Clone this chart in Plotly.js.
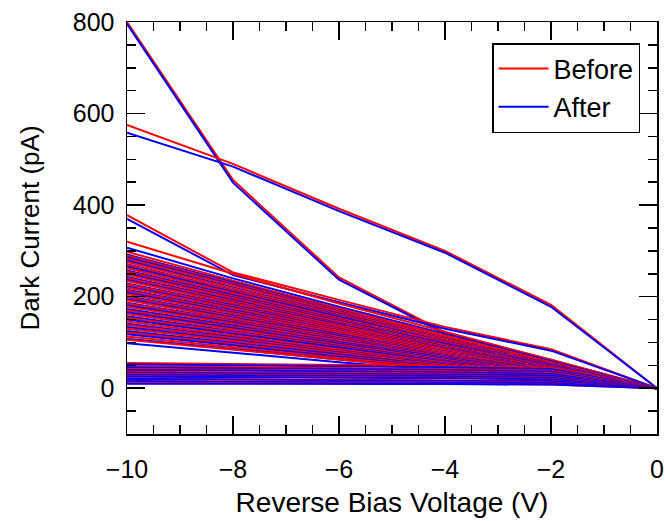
<!DOCTYPE html>
<html>
<head>
<meta charset="utf-8">
<script src="https://cdn.plot.ly/plotly-3.0.1.min.js"></script>
<style>html,body{margin:0;padding:0;background:#fff;}#chart{width:665px;height:521px;}</style>
</head>
<body>
<div id="chart"></div>
<script>
// Reverse bias voltages (V)
const voltage = [-10, -8, -6, -4, -2, 0];

// Dark current (pA) per device, before treatment
const before = [
  [800, 455, 242, 122, 62, 0],
  [575, 490, 392, 300, 182, 0],
  [378, 253, 193, 134, 85, 0],
  [320, 250, 185, 124, 62, 0],
  [298, 235, 174, 115, 57, 0],
  [290, 229, 170, 112, 55, 0],
  [283, 224, 166, 109, 54, 0],
  [276, 218, 161, 106, 52, 0],
  [270, 213, 158, 104, 51, 0],
  [262, 207, 153, 101, 50, 0],
  [255, 201, 149, 98, 48, 0],
  [248, 196, 145, 95, 47, 0],
  [241, 190, 141, 93, 46, 0],
  [234, 185, 137, 90, 44, 0],
  [227, 179, 133, 87, 43, 0],
  [220, 174, 129, 85, 42, 0],
  [213, 168, 125, 82, 40, 0],
  [206, 163, 121, 79, 39, 0],
  [199, 157, 116, 77, 38, 0],
  [192, 152, 112, 74, 36, 0],
  [185, 146, 108, 71, 35, 0],
  [178, 141, 104, 69, 34, 0],
  [170, 134, 99, 65, 32, 0],
  [162, 128, 95, 62, 31, 0],
  [154, 122, 90, 59, 29, 0],
  [146, 115, 85, 56, 28, 0],
  [138, 109, 81, 53, 26, 0],
  [130, 103, 76, 50, 25, 0],
  [122, 96, 71, 47, 23, 0],
  [113, 89, 66, 44, 21, 0],
  [106, 84, 62, 41, 20, 0],
  [55, 53, 51, 49, 44, 0],
  [48, 46, 44, 42, 38, 0],
  [42, 40, 39, 37, 33, 0],
  [36, 35, 33, 32, 28, 0],
  [31, 30, 28, 27, 24, 0],
  [26, 25, 24, 23, 20, 0],
  [21, 20, 19, 18, 16, 0],
  [16, 15, 15, 14, 12, 0],
  [11, 11, 10, 10, 8, 0]
];

// Dark current (pA) per device, after treatment
const after = [
  [796, 449, 237, 119, 60, 0],
  [558, 484, 387, 296, 178, 0],
  [370, 247, 188, 130, 82, 0],
  [307, 240, 178, 119, 59, 0],
  [292, 231, 171, 112, 55, 0],
  [286, 226, 167, 110, 54, 0],
  [279, 220, 163, 107, 53, 0],
  [271, 214, 159, 104, 51, 0],
  [266, 210, 156, 102, 51, 0],
  [257, 203, 150, 99, 49, 0],
  [251, 198, 147, 97, 48, 0],
  [243, 192, 142, 94, 46, 0],
  [237, 187, 139, 91, 45, 0],
  [229, 181, 134, 88, 44, 0],
  [223, 176, 130, 86, 42, 0],
  [215, 170, 126, 83, 41, 0],
  [209, 165, 122, 80, 40, 0],
  [201, 159, 118, 77, 38, 0],
  [195, 154, 114, 75, 37, 0],
  [187, 148, 109, 72, 36, 0],
  [181, 143, 106, 70, 34, 0],
  [173, 137, 101, 67, 33, 0],
  [166, 131, 97, 64, 32, 0],
  [157, 124, 92, 60, 30, 0],
  [150, 119, 88, 58, 29, 0],
  [141, 111, 82, 54, 27, 0],
  [134, 106, 78, 52, 25, 0],
  [125, 99, 73, 48, 24, 0],
  [118, 93, 69, 45, 22, 0],
  [108, 85, 63, 42, 21, 0],
  [98, 77, 57, 38, 19, 0],
  [52, 50, 48, 46, 42, 0],
  [45, 44, 42, 40, 36, 0],
  [40, 38, 37, 35, 31, 0],
  [34, 33, 31, 30, 27, 0],
  [29, 28, 27, 26, 23, 0],
  [25, 24, 23, 22, 19, 0],
  [20, 19, 18, 17, 15, 0],
  [15, 14, 14, 13, 11, 0],
  [10, 10, 9, 9, 8, 0]
];

const seriesNames = ["Before", "After"];
const seriesColors = ["#FF0000", "#0000FF"];

const traces = [];
for (let i = 0; i < before.length; i++) {
  traces.push({
    x: voltage, y: before[i], type: "scatter", mode: "lines",
    line: {color: seriesColors[0], width: 2},
    name: seriesNames[0], legendgroup: "b", showlegend: i === 0,
    hoverinfo: "skip"
  });
  traces.push({
    x: voltage, y: after[i], type: "scatter", mode: "lines",
    line: {color: seriesColors[1], width: 2},
    name: seriesNames[1], legendgroup: "a", showlegend: i === 0,
    hoverinfo: "skip"
  });
}

const fontFam = "Liberation Sans, Arial, sans-serif";
const layout = {
  width: 665, height: 521,
  margin: {l: 127, r: 8, t: 22, b: 87},
  paper_bgcolor: "#fff", plot_bgcolor: "#fff",
  font: {family: fontFam, size: 25, color: "#000"},
  showlegend: true,
  legend: {
    x: 0.968, xanchor: "right", y: 0.949, yanchor: "top",
    bgcolor: "#fff", bordercolor: "#000", borderwidth: 1.5,
    font: {family: fontFam, size: 27, color: "#000"},
    itemwidth: 50, tracegroupgap: 0
  },
  xaxis: {
    range: [-10, 0], dtick: 2, tick0: 0,
    ticks: "inside", ticklen: 18, tickwidth: 1.5, tickcolor: "#000",
    minor: {ticks: "inside", dtick: 0.5, ticklen: 9, tickwidth: 1.5, tickcolor: "#000"},
    showline: true, linecolor: "#000", linewidth: 1.5, mirror: "ticks",
    showgrid: false, zeroline: false,
    tickfont: {family: fontFam, size: 25},
    ticklabelstandoff: 12,
    title: {text: "Reverse Bias Voltage (V)", font: {family: fontFam, size: 28}, standoff: 11}
  },
  yaxis: {
    range: [-100, 800], dtick: 200, tick0: 0,
    ticks: "inside", ticklen: 18, tickwidth: 1.5, tickcolor: "#000",
    minor: {ticks: "inside", dtick: 50, ticklen: 9, tickwidth: 1.5, tickcolor: "#000"},
    showline: true, linecolor: "#000", linewidth: 1.5, mirror: "ticks",
    showgrid: false, zeroline: false,
    tickfont: {family: fontFam, size: 25},
    ticklabelstandoff: 6,
    title: {text: "Dark Current (pA)", font: {family: fontFam, size: 26}, standoff: 25}
  }
};

Plotly.newPlot("chart", traces, layout, {staticPlot: true, displayModeBar: false});
</script>
</body>
</html>
